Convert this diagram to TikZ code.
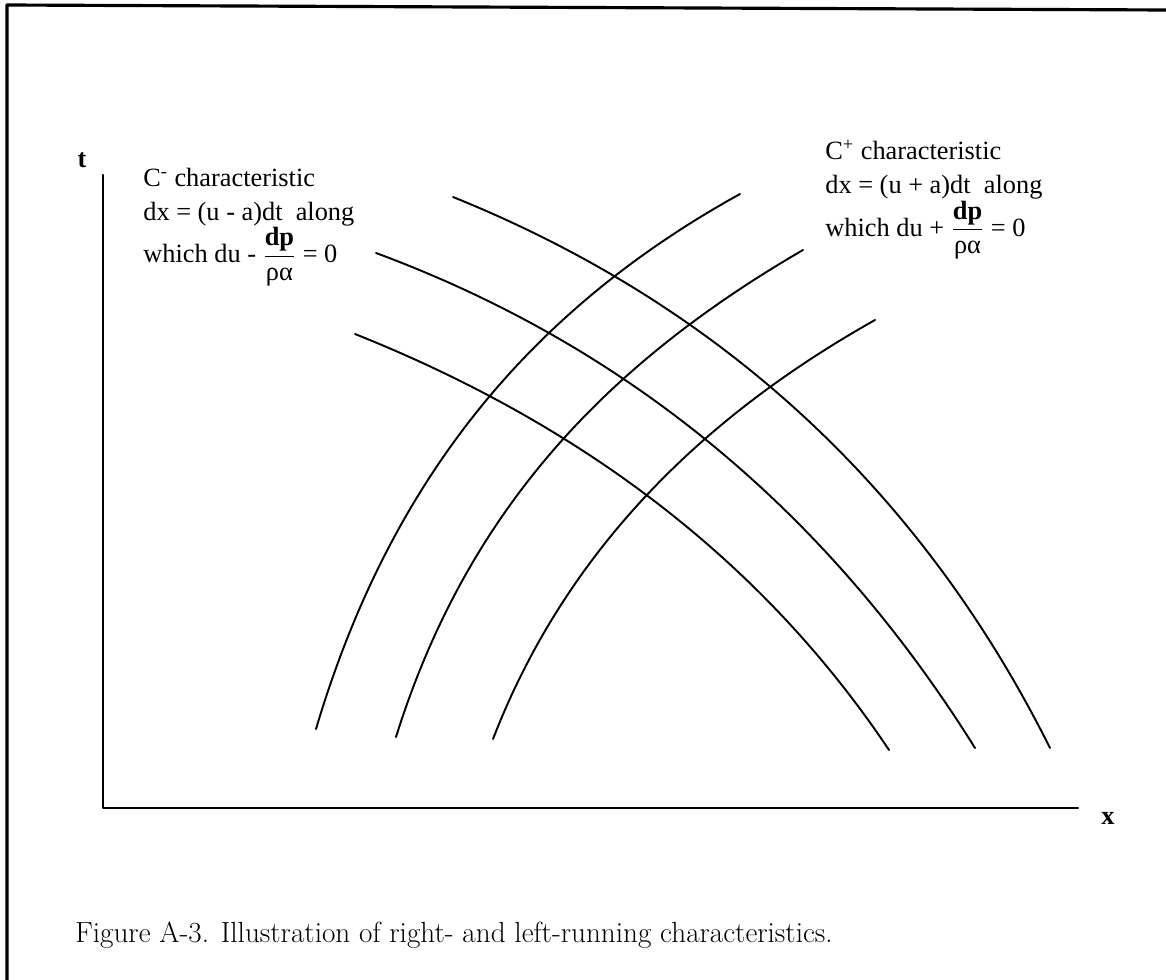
\documentclass[tikz,border=0pt]{standalone}
\usepackage{amsmath}
\usepackage{fontspec}
\newfontfamily\lblfont{Liberation Serif}
\usepackage{tikz}

\begin{document}
\begin{tikzpicture}[x=0.02cm, y=-0.02cm, line cap=round, line join=round,
    curve/.style={line width=1.1pt},
    lbl/.style={font=\lblfont\fontsize{15}{19}\selectfont, align=left, anchor=north west, inner sep=0pt}]
    \useasboundingbox (0,0) rectangle (1166,980);
    % frame
    \draw[line width=1.8pt] (7,980) -- (7,5) -- (1166,10);
    % axes
    \coordinate (O) at (103,808);
    \coordinate (T) at (103,175);
    \coordinate (X) at (1078,808);
    \draw[line width=1.2pt] (T) -- (O) -- (X);
    \node[font=\lblfont\bfseries\fontsize{15}{18}\selectfont] (tlab) at (82,160) {t};
    \node[font=\lblfont\bfseries\fontsize{15}{18}\selectfont] (xlab) at (1108,818) {x};
    % C+ characteristics
    \draw[curve] (316,729) .. controls (390,480) and (530,310) .. (740,194);
    \draw[curve] (396,737) .. controls (468,507) and (610,362) .. (803,250);
    \draw[curve] (493,739) .. controls (570,540) and (715,410) .. (875,320);
    % C- characteristics
    \draw[curve] (453,197) .. controls (723,306) and (922,492) .. (1050,748);
    \draw[curve] (376,253) .. controls (627,346) and (827,511) .. (975,748);
    \draw[curve] (355,334) .. controls (588,427) and (766,566) .. (889,750);
    % labels
    \node[lbl] (cminus) at (143,168) {C\textsuperscript{-} characteristic\\
        dx = (u - a)dt~ along\\
        which du - \(\dfrac{\textbf{dp}}{\text{ρα}}\) = 0};
    \node[lbl] (cplus) at (825,140) {C\textsuperscript{+} characteristic\\
        dx = (u + a)dt~ along\\
        which du + \(\dfrac{\textbf{dp}}{\text{ρα}}\) = 0};
    \node[font=\fontsize{16.6}{20}\selectfont, anchor=west, inner sep=0pt] (cap) at (75,935)
        {Figure A-3. Illustration of right- and left-running characteristics.};
\end{tikzpicture}
\end{document}
